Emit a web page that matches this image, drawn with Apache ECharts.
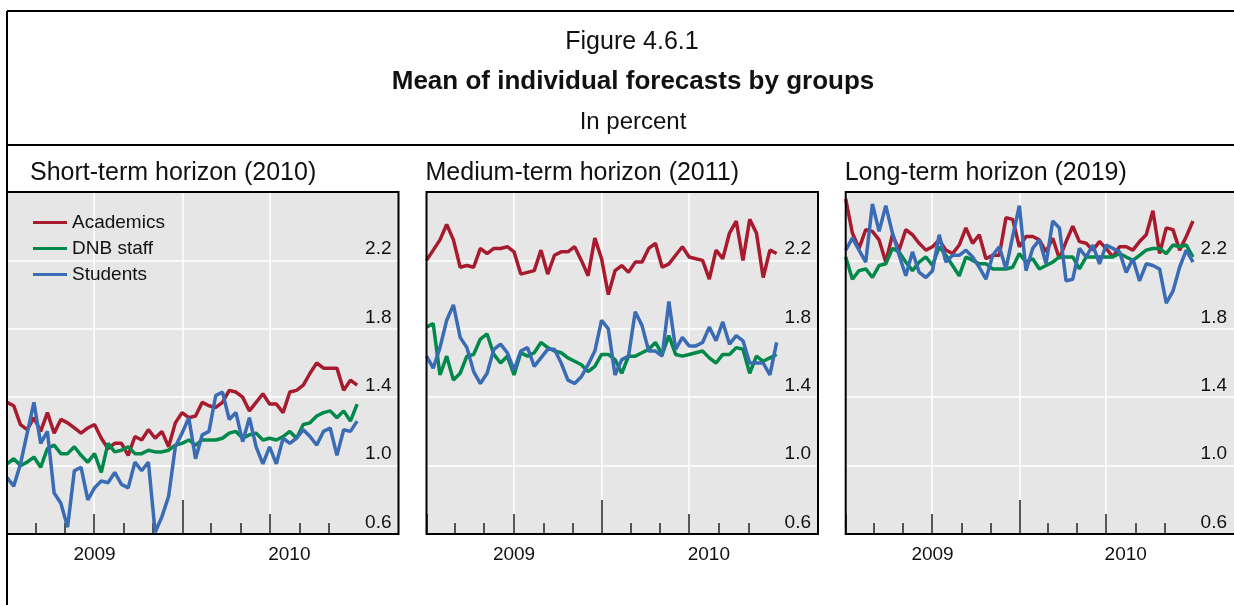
<!DOCTYPE html>
<html><head><meta charset="utf-8">
<script src="https://cdn.jsdelivr.net/npm/echarts@6/dist/echarts.min.js"></script>
<style>html,body{margin:0;padding:0;background:#fff}#c{width:1234px;height:605px}</style>
</head><body><div id="c"></div>
<script>
// ---------------- data ----------------
const surveyDates = [
 '2009-01-01','2009-01-15','2009-01-29','2009-02-12','2009-02-26','2009-03-12','2009-03-26','2009-04-09','2009-04-23','2009-05-07',
 '2009-05-21','2009-06-04','2009-06-18','2009-07-02','2009-07-16','2009-07-30','2009-08-13','2009-08-27','2009-09-10','2009-09-24',
 '2009-10-08','2009-10-22','2009-11-05','2009-11-19','2009-12-03','2009-12-17','2009-12-31','2010-01-14','2010-01-28','2010-02-11',
 '2010-02-25','2010-03-11','2010-03-25','2010-04-08','2010-04-22','2010-05-06','2010-05-20','2010-06-03','2010-06-17','2010-07-01',
 '2010-07-15','2010-07-29','2010-08-12','2010-08-26','2010-09-09','2010-09-23','2010-10-07','2010-10-21','2010-11-04','2010-11-18',
 '2010-12-02','2010-12-16','2010-12-30'];

const groups = ['Academics', 'DNB staff', 'Students'];
const panelTitles = ['Short-term horizon (2010)', 'Medium-term horizon (2011)', 'Long-term horizon (2019)'];

const shortAcademics = [1.37,1.35,1.24,1.21,1.28,1.20,1.31,1.19,1.27,1.25, 1.22,1.19,1.22,1.24,1.16,1.10,1.13,1.13,1.06,1.17,
 1.15,1.21,1.16,1.20,1.11,1.25,1.31,1.28,1.29,1.37, 1.35,1.34,1.37,1.44,1.43,1.40,1.32,1.37,1.42,1.36,
 1.36,1.31,1.43,1.44,1.47,1.54,1.60,1.57,1.57,1.57, 1.44,1.50,1.47];
const shortDNB = [1.01,1.04,1.00,1.02,1.05,0.99,1.10,1.12,1.07,1.07, 1.11,1.06,1.02,1.07,0.96,1.13,1.08,1.09,1.11,1.07,
 1.07,1.09,1.08,1.08,1.09,1.12,1.13,1.15,1.12,1.15, 1.15,1.15,1.16,1.19,1.20,1.16,1.18,1.19,1.15,1.16,
 1.15,1.17,1.20,1.16,1.24,1.25,1.29,1.31,1.32,1.28, 1.32,1.26,1.36];
const shortStudents = [0.93,0.88,1.01,1.19,1.37,1.13,1.20,0.84,0.78,0.64, 0.97,0.99,0.80,0.87,0.91,0.90,0.96,0.89,0.87,1.02,
 0.97,1.02,0.61,0.70,0.82,1.11,1.19,1.28,1.04,1.18, 1.20,1.41,1.43,1.27,1.31,1.14,1.28,1.11,1.01,1.11,
 1.01,1.16,1.13,1.16,1.21,1.17,1.12,1.20,1.22,1.06, 1.21,1.20,1.26];

const mediumAcademics = [2.20,2.26,2.32,2.41,2.32,2.16,2.17,2.16,2.27,2.24, 2.27,2.27,2.28,2.25,2.12,2.13,2.14,2.26,2.12,2.23,
 2.25,2.25,2.28,2.20,2.11,2.33,2.21,2.00,2.14,2.17, 2.13,2.19,2.19,2.27,2.30,2.16,2.18,2.23,2.28,2.22,
 2.21,2.20,2.09,2.26,2.21,2.36,2.43,2.20,2.44,2.36, 2.10,2.26,2.24];
const mediumDNB = [1.81,1.83,1.53,1.64,1.50,1.54,1.64,1.65,1.74,1.77, 1.65,1.60,1.64,1.53,1.66,1.64,1.66,1.72,1.69,1.67,
 1.66,1.63,1.61,1.59,1.55,1.58,1.65,1.65,1.62,1.54, 1.64,1.64,1.66,1.68,1.72,1.65,1.76,1.65,1.64,1.65,
 1.66,1.67,1.63,1.60,1.65,1.65,1.69,1.68,1.54,1.64, 1.61,1.63,1.65];
const mediumStudents = [1.64,1.57,1.69,1.85,1.94,1.75,1.69,1.55,1.48,1.54, 1.68,1.71,1.66,1.56,1.67,1.69,1.58,1.63,1.68,1.68,
 1.60,1.50,1.48,1.52,1.59,1.67,1.85,1.80,1.53,1.62, 1.64,1.90,1.82,1.67,1.67,1.64,1.96,1.68,1.75,1.70,
 1.70,1.72,1.81,1.73,1.84,1.71,1.76,1.73,1.60,1.60, 1.60,1.53,1.72];

const longAcademics = [2.56,2.36,2.27,2.38,2.37,2.32,2.19,2.35,2.26,2.38, 2.35,2.30,2.26,2.28,2.32,2.26,2.24,2.29,2.39,2.30,
 2.35,2.21,2.23,2.23,2.45,2.44,2.28,2.34,2.34,2.32, 2.25,2.33,2.21,2.31,2.40,2.31,2.30,2.26,2.31,2.27,
 2.22,2.28,2.28,2.26,2.31,2.35,2.49,2.24,2.39,2.38, 2.26,2.34,2.43];
const longDNB = [2.22,2.09,2.14,2.15,2.10,2.17,2.18,2.27,2.25,2.19, 2.14,2.19,2.22,2.17,2.28,2.23,2.17,2.11,2.22,2.20,
 2.18,2.18,2.15,2.15,2.15,2.16,2.24,2.19,2.21,2.15, 2.17,2.19,2.22,2.22,2.22,2.15,2.22,2.22,2.22,2.22,
 2.22,2.24,2.22,2.20,2.23,2.26,2.27,2.27,2.24,2.29, 2.28,2.29,2.22];
const longStudents = [2.26,2.33,2.26,2.19,2.53,2.37,2.52,2.36,2.23,2.11, 2.25,2.13,2.10,2.14,2.35,2.19,2.23,2.23,2.26,2.22,
 2.16,2.09,2.23,2.28,2.15,2.34,2.52,2.14,2.27,2.32, 2.18,2.43,2.39,2.08,2.09,2.27,2.22,2.29,2.18,2.29,
 2.27,2.25,2.13,2.21,2.08,2.18,2.17,2.15,1.95,2.02, 2.16,2.26,2.19];

const panelData = [
  [shortAcademics, shortDNB, shortStudents],
  [mediumAcademics, mediumDNB, mediumStudents],
  [longAcademics, longDNB, longStudents]
];

const axisStart = '2009-01-01', axisEnd = '2011-03-26';
const minorTickDates = ['2009-03-01','2009-05-01','2009-09-01','2009-11-01','2010-03-01','2010-05-01','2010-09-01','2010-11-01'];
const midTickDates = ['2009-01-01','2009-07-01','2010-07-01'];
const majorTickDates = ['2010-01-01'];
const gridLineDates = ['2009-07-01','2010-01-01','2010-07-01'];
const yearLabelDates = ['2009-07-02','2010-08-11'];
const yMin = 0.6, yMax = 2.6, yStep = 0.4;

// ---------------- styles / layout ----------------
const colors = ['#A81B2F', '#00894A', '#3A6CB5'];
const FONT = '"Liberation Sans", Arial, Helvetica, sans-serif';
const panelLeft = [7, 426.5, 845.7];
const panelTop = 192, panelW = 391.5, panelH = 342;
const ts = s => +echarts.time.parse(s);

const chart = echarts.init(document.getElementById('c'), null, {renderer: 'canvas'});

const grids = [], xAxes = [], yAxes = [], series = [], graphics = [];

panelLeft.forEach((left, p) => {
  grids.push({left: left, top: panelTop, width: panelW, height: panelH, show: true,
    backgroundColor: '#E6E6E6', borderWidth: 0, containLabel: false});
  const base = {gridIndex: p, type: 'value', min: ts(axisStart), max: ts(axisEnd), position: 'bottom',
    axisLine: {show: false}, splitLine: {show: false}, axisLabel: {show: false}};
  const baseIdx = xAxes.length;
  xAxes.push(Object.assign({}, base, {
    axisTick: {show: true, inside: true, length: 11, customValues: minorTickDates.map(ts), lineStyle: {color: '#222', width: 1.5}},
    axisLabel: {show: true, customValues: yearLabelDates.map(ts), formatter: v => String(new Date(v).getFullYear()),
      fontSize: 19, fontFamily: FONT, color: '#111', margin: 11}
  }));
  xAxes.push(Object.assign({}, base, {
    axisTick: {show: true, inside: true, length: 20, customValues: midTickDates.map(ts), lineStyle: {color: '#222', width: 1.5}}
  }));
  xAxes.push(Object.assign({}, base, {
    axisTick: {show: true, inside: true, length: 34, customValues: majorTickDates.map(ts), lineStyle: {color: '#222', width: 1.5}}
  }));
  xAxes.push(Object.assign({}, base, {
    axisTick: {show: false, customValues: gridLineDates.map(ts)},
    splitLine: {show: true, lineStyle: {color: '#FFFFFF', width: 1.5}}
  }));
  yAxes.push({gridIndex: p, type: 'value', min: yMin, max: yMax, interval: yStep, position: 'right',
    axisLine: {show: false}, axisTick: {show: false},
    splitLine: {show: true, lineStyle: {color: '#FFFFFF', width: 1.5}},
    axisLabel: {inside: true, margin: 7, showMaxLabel: false, fontSize: 19, fontFamily: FONT, color: '#111',
      verticalAlign: 'bottom', padding: [0, 0, 2, 0], formatter: v => v.toFixed(1)}
  });
  groups.forEach((g, k) => {
    series.push({name: g, type: 'line', xAxisIndex: baseIdx, yAxisIndex: p, color: colors[k],
      showSymbol: false, symbol: 'none', lineStyle: {width: 3.5, color: colors[k]}, z: 3,
      emphasis: {disabled: true},
      data: surveyDates.map((d, i) => [ts(d), panelData[p][k][i]])});
  });
  graphics.push({type: 'rect', z: 100, silent: true,
    shape: {x: left, y: panelTop, width: panelW, height: panelH},
    style: {fill: null, stroke: '#000', lineWidth: 2}});
  graphics.push({type: 'text', z: 100, silent: true, x: p === 0 ? 30 : left - 1, y: 173,
    style: {text: panelTitles[p], font: '25px ' + FONT, fill: '#111', textVerticalAlign: 'middle'}});
});

graphics.push({type: 'line', z: 100, silent: true, shape: {x1: 7, y1: 11, x2: 1234, y2: 11}, style: {stroke: '#000', lineWidth: 2}});
graphics.push({type: 'line', z: 100, silent: true, shape: {x1: 7, y1: 11, x2: 7, y2: 605}, style: {stroke: '#000', lineWidth: 2}});
graphics.push({type: 'line', z: 100, silent: true, shape: {x1: 7, y1: 145, x2: 1234, y2: 145}, style: {stroke: '#000', lineWidth: 2}});
graphics.push({type: 'text', z: 100, silent: true, x: 632, y: 42,
  style: {text: 'Figure 4.6.1', font: '25px ' + FONT, fill: '#111', textAlign: 'center', textVerticalAlign: 'middle'}});
graphics.push({type: 'text', z: 100, silent: true, x: 633, y: 82,
  style: {text: 'Mean of individual forecasts by groups', font: 'bold 26px ' + FONT, fill: '#111', textAlign: 'center', textVerticalAlign: 'middle'}});
graphics.push({type: 'text', z: 100, silent: true, x: 633, y: 122,
  style: {text: 'In percent', font: '24px ' + FONT, fill: '#111', textAlign: 'center', textVerticalAlign: 'middle'}});

chart.setOption({
  animation: false,
  backgroundColor: '#FFFFFF',
  grid: grids,
  xAxis: xAxes,
  yAxis: yAxes,
  legend: {data: groups, orient: 'vertical', left: 28, top: 208, icon: 'rect', itemWidth: 34, itemHeight: 3,
    itemGap: 7, textStyle: {fontSize: 19, fontFamily: FONT, color: '#111'}, selectedMode: false},
  series: series,
  graphic: graphics
});
</script></body></html>
